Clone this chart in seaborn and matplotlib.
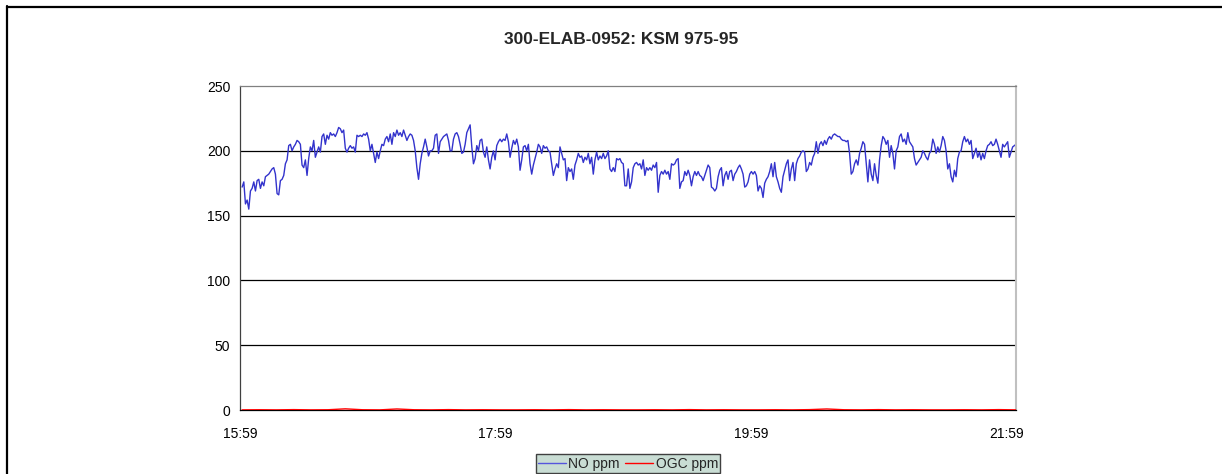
import numpy as np
import pandas as pd
import matplotlib
matplotlib.use('Agg')
import matplotlib.pyplot as plt
from matplotlib.lines import Line2D
import seaborn as sns

# NO ppm (amostras aproximadamente regulares de 16:00 a 22:03)
no_ppm = [172, 176, 159, 162, 155, 169, 171, 176, 169, 177, 178, 171, 176, 173, 180, 181, 182, 184, 186, 187,
          182, 167, 166, 177, 178, 181, 190, 193, 204, 205, 200, 203, 205, 208, 207, 205, 189, 187, 193, 181,
          194, 203, 200, 208, 195, 199, 203, 199, 211, 213, 205, 212, 209, 214, 212, 213, 211, 214, 218, 217,
          214, 216, 202, 199, 202, 204, 202, 203, 199, 212, 211, 212, 211, 213, 212, 214, 209, 200, 205, 198,
          191, 199, 194, 200, 205, 204, 209, 211, 207, 213, 205, 214, 211, 216, 212, 214, 211, 216, 212, 208,
          211, 213, 212, 208, 200, 187, 178, 190, 198, 203, 209, 203, 196, 200,
          200, 202, 212, 213, 198, 207, 209, 211, 212, 213, 208, 200, 200, 209, 213, 214, 211, 205, 198, 199,
          205, 214, 217, 220, 203, 190, 194, 204, 200, 208, 209, 199, 195, 203, 193, 186, 195, 200, 193, 204,
          207, 209, 207, 209, 208, 213, 207, 195, 202, 208, 205, 209, 203, 185, 193, 203, 204, 200, 205, 190,
          182, 189, 194, 199, 205, 203, 198, 204, 202, 203, 200, 199, 190, 181, 186, 190, 187, 203, 198, 193,
          194, 177, 187, 184, 186, 178, 189, 193, 198, 195, 196, 191, 195, 193, 198, 190, 195, 182, 193, 199,
          193, 196, 194, 198, 194, 196, 200, 186, 184, 187, 184, 194, 193, 194, 191,
          190, 173, 173, 186, 171, 176, 187, 190, 191, 189, 190, 186, 193, 181, 187, 185, 187, 185, 189, 187,
          191, 168, 181, 184, 182, 185, 182, 184, 178, 190, 189, 190, 193, 194, 171, 176, 177, 184, 181, 185,
          181, 173, 180, 184, 181, 184, 181, 180, 177, 181, 185, 189, 187, 172, 171, 169, 171, 180, 185, 187,
          173, 181, 184, 178, 184, 185, 177, 182, 184, 187, 189, 186, 182, 172, 173, 176, 182, 184, 182, 184,
          181, 169, 173, 171, 164, 175, 178, 180, 184, 190, 180, 191, 180, 176, 171, 168, 180, 185, 190, 193,
          177, 186, 191, 177, 190, 194, 196, 199, 200, 199, 184, 186, 191,
          189, 195, 198, 207, 198, 205, 207, 204, 208, 205, 209, 211, 209, 212, 213, 212, 211, 211, 209, 208,
          208, 207, 208, 198, 182, 184, 190, 193, 189, 198, 202, 207, 205, 190, 176, 193, 182, 177, 190, 181,
          175, 193, 204, 211, 209, 205, 208, 195, 204, 198, 186, 200, 203, 211, 213, 207, 209, 205, 214, 207,
          205, 203, 194, 189, 191, 193, 195, 200, 198, 195, 193, 198, 200, 209, 205, 198, 203, 199, 204, 211,
          208, 200, 186, 190, 180, 176, 185, 180, 194, 199, 200, 207, 211, 207, 209, 205, 208, 194, 198, 202,
          195, 199, 193, 198, 194, 200, 204, 205, 207, 204, 205, 209, 205, 200, 195, 205, 203, 205, 207, 195,
          199, 203, 204, 205]

ogc_ppm = [0.1, 0.2, 0.1, 0.3, 0.1, 0.2, 0.9, 0.2, 0.1, 0.8, 0.2, 0.1, 0.3, 0.1, 0.2, 0.1, 0.1, 0.2, 0.1, 0.3,
           0.1, 0.2, 0.1, 0.1, 0.2, 0.1, 0.3, 0.1, 0.2, 0.1, 0.1, 0.2, 0.1, 0.3, 0.8, 0.2, 0.1, 0.3, 0.1, 0.2,
           0.1, 0.1, 0.2, 0.1, 0.3, 0.1]

# minutos desde 15:59
inicio, fim = 1.0, 364.5
t_no = np.linspace(inicio, fim, len(no_ppm))
t_ogc = np.linspace(inicio, fim, len(ogc_ppm))

tick_min = [0, 120, 240, 360]
tick_lbl = ['15:59', '17:59', '19:59', '21:59']

sns.set_style('white')
plt.rcParams['font.family'] = ['Liberation Sans', 'DejaVu Sans']

fig = plt.figure(figsize=(12.22, 4.74), dpi=100)
ax = fig.add_axes([240/1222, 64/474, 776/1222, 324/474])

sns.lineplot(x=t_no, y=no_ppm, ax=ax, color='#3333cc', linewidth=1.0, label='NO ppm')
sns.lineplot(x=t_ogc, y=ogc_ppm, ax=ax, color='#ff0000', linewidth=1.0, label='OGC ppm', zorder=3)
ax.get_legend().remove()

ax.set_xlim(0, 364.5)
ax.set_ylim(0, 250)
ax.set_yticks([0, 50, 100, 150, 200, 250])
ax.set_xticks(tick_min)
ax.set_xticklabels(tick_lbl)
for v in [50, 100, 150, 200]:
    ax.axhline(v, color='black', linewidth=0.9, zorder=0)
ax.tick_params(axis='both', labelsize=10, length=4, width=0.8, direction='out', colors='#404040', labelcolor='black')
ax.tick_params(axis='x', pad=8)
ax.tick_params(axis='y', pad=3)
ax.spines['left'].set_color('#404040')
ax.spines['bottom'].set_color('black')
ax.spines['top'].set_color('#808080')
ax.spines['right'].set_color('#c0c0c0')
ax.spines['right'].set_linewidth(1.5)
for s in ['left', 'bottom', 'top']:
    ax.spines[s].set_linewidth(0.9)

fig.text(621/1222, 1 - 40/474, '300-ELAB-0952: KSM 975-95', ha='center', va='center',
         fontsize=12.5, fontweight='bold')

handles = [Line2D([0], [0], color='#5555dd', lw=1), Line2D([0], [0], color='#ff0000', lw=1)]
leg = fig.legend(handles, ['NO ppm', 'OGC ppm'], loc='lower center', bbox_to_anchor=(628/1222, 0.0),
                 ncol=2, fontsize=10, frameon=True, fancybox=False, framealpha=1,
                 handlelength=2.0, handletextpad=0.2, columnspacing=0.4, borderpad=0.15,
                 borderaxespad=0.1)
leg.get_frame().set_facecolor('#c9ddd4')
leg.get_frame().set_edgecolor('#404040')

# moldura da figura (esquerda e topo)
fig.add_artist(Line2D([6.5/1222, 6.5/1222], [0, 1 - 6/474], color='black', lw=1.6))
fig.add_artist(Line2D([6.5/1222, 1], [1 - 6.5/474, 1 - 6.5/474], color='black', lw=1.6))

fig.savefig('out.png', dpi=100)
